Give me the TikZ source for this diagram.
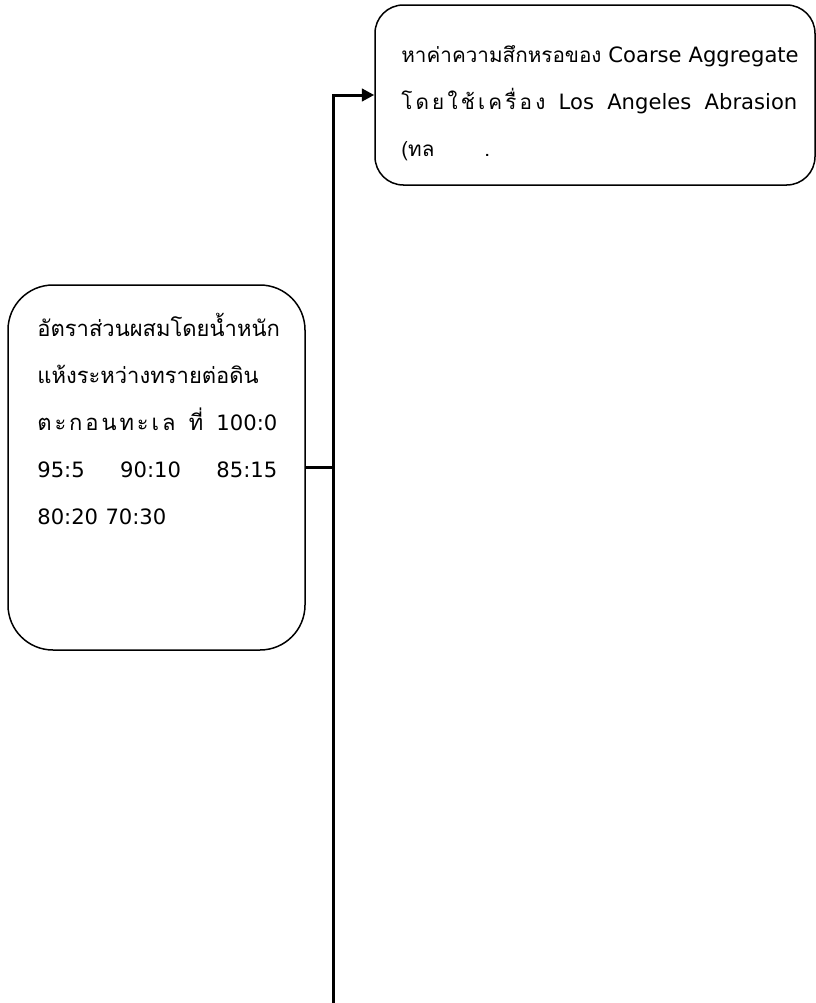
\documentclass[tikz,border=0pt]{standalone}
\usepackage{fontspec}
\usepackage{tikz}
\usetikzlibrary{arrows.meta,positioning}
\newfontfamily\thaifont[Script=Thai]{Loma}
\newfontfamily\latfont{DejaVu Sans}[Scale=0.96]
\newcommand\latword[1]{{\latfont\fontsize{13.2}{28.2}\selectfont #1}}

\begin{document}
\begin{tikzpicture}[x=0.6pt,y=-0.6pt,
        roundbox/.style={draw=black, line width=0.9pt, fill=white, inner sep=0pt},
        boxtext/.style={anchor=base west, inner sep=0pt, align=left, text width=#1,
            font=\thaifont\fontsize{13.2}{28.2}\selectfont},
        bus/.style={line width=1.8pt, draw=black},
        busarr/.style={bus, -{Triangle[length=7.5pt,width=7.5pt]}}
    ]
        \useasboundingbox (0,0) rectangle (815,1003);

        % --- mixing ratio box (left) ---
        \node[roundbox, rounded corners=27pt, minimum width=178.2pt, minimum height=219pt] (mixbox) at (156.5,467.5) {};
        \node[boxtext=144pt] (mixtext) at (37,336) {%
            \makebox[144pt][s]{อัตราส่วนผสมโดยน้ำหนัก}\\
            \makebox[144pt][s]{แห้งระหว่างทรายต่อดิน}\\
            \makebox[144pt][s]{ต\hfill ะ\hfill ก\hfill อ\hfill น\hfill ท\hfill ะ\hfill เ\hfill ล\hfill\ \hfill ที่\hfill\ \hfill{\latfont 100:0}}\\
            \makebox[144pt][s]{\latfont 95:5\hfill 90:10\hfill 85:15}\\
            {\latfont 80:20 70:30}};

        % --- abrasion test box (top right) ---
        \node[roundbox, rounded corners=17pt, minimum width=264pt, minimum height=108pt] (abrbox) at (595,95) {};
        \node[boxtext=237.6pt, font=\thaifont\fontsize{12.4}{28.2}\selectfont] (abrtext) at (401,62) {%
            \makebox[237.6pt][s]{หาค่าความสึกหรอของ\ \hfill\latword{Coarse Aggregate}}\\
            \makebox[237.6pt][s]{โ\hfill ด\hfill ย\hfill ใ\hfill ช้\hfill เ\hfill ค\hfill รื่\hfill อ\hfill ง\hfill\ \hfill\latword{Los}\hfill\ \hfill\latword{Angeles}\hfill\ \hfill\latword{Abrasion}}\\
            (ทล\hspace{30pt}.};

        % --- connector bus ---
        \coordinate (busend) at (333,1003);
        \draw[busarr] (busend) |- (abrbox.west);
        \draw[bus] (mixbox.east) -- (mixbox.east -| busend);
    \end{tikzpicture}
\end{document}
